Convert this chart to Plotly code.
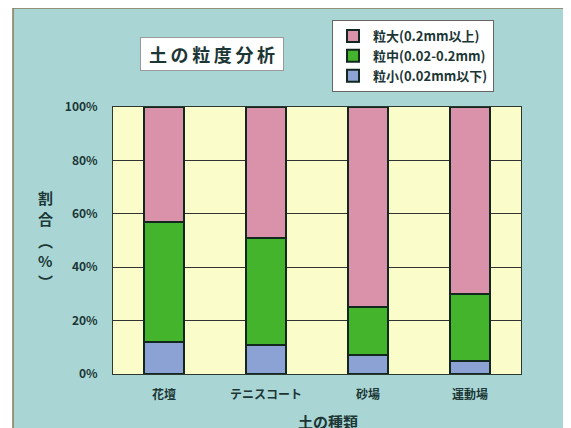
import plotly.graph_objects as go

categories = ["花壇", "テニスコート", "砂場", "運動場"]
small = [0.12, 0.11, 0.07, 0.05]   # 粒小
medium = [0.45, 0.40, 0.18, 0.25]  # 粒中
large = [0.43, 0.49, 0.75, 0.70]   # 粒大
series_names = ["粒小(0.02mm以下)", "粒中(0.02-0.2mm)", "粒大(0.2mm以上)"]
series_colors = ["#8ca2d4", "#44b42c", "#da92aa"]
y_ticks = [0, 0.2, 0.4, 0.6, 0.8, 1.0]
y_tick_labels = ["0%", "20%", "40%", "60%", "80%", "100%"]

FONT = "Noto Sans CJK JP"
TXT = "#1c3636"
TEAL = "#a9d6d5"
PLOTBG = "#fafcca"

fig = go.Figure()
for name, vals, col in zip(series_names, [small, medium, large], series_colors):
    fig.add_trace(go.Bar(
        x=categories, y=vals, name=name, width=0.4,
        marker=dict(color=col, line=dict(color="#12281e", width=2)),
    ))

OFF = 8  # page body margin
W, H = 571 - OFF, 428 - OFF
# plot area in reference pixels: x 113..521, y 107..374
L, T = 113 - OFF, 107 - OFF
R = W - (521 - OFF)
B = H - (374 - OFF)
pw, ph = W - L - R, H - T - B

def px(x):
    return (x - OFF - L) / pw

def py(y):
    return (H - B - (y - OFF)) / ph

fig.update_layout(
    width=W, height=H,
    margin=dict(l=L, r=R, t=T, b=B, autoexpand=False),
    barmode="stack",
    paper_bgcolor="white",
    plot_bgcolor="rgba(0,0,0,0)",
    font=dict(family=FONT, color=TXT, size=12, weight="bold"),
    showlegend=True,
    legend=dict(
        x=px(332), y=py(20), xanchor="left", yanchor="top",
        bgcolor="white", bordercolor="#666666", borderwidth=1,
        traceorder="reversed", font=dict(size=13, family=FONT, color=TXT, weight="bold"),
        itemwidth=30, tracegroupgap=0,
    ),
    shapes=[
        dict(type="rect", xref="paper", yref="paper", layer="below",
             x0=px(13), x1=px(568), y0=py(445), y1=py(8),
             fillcolor=TEAL, line=dict(color="#8a7a5a", width=1.5)),
        dict(type="rect", xref="paper", yref="paper", layer="below",
             x0=0, x1=1, y0=0, y1=1,
             fillcolor=PLOTBG, line=dict(width=0)),
    ],
    xaxis=dict(
        showgrid=False, showline=True, mirror=True, linecolor="#2a3a30", linewidth=1,
        ticks="outside", ticklen=10, tickcolor="rgba(0,0,0,0)",
        tickfont=dict(size=12, family=FONT, color=TXT, weight="bold"),
    ),
    yaxis=dict(
        range=[0, 1], tickvals=y_ticks, ticktext=y_tick_labels,
        showgrid=True, gridcolor="#333333", gridwidth=1,
        showline=True, mirror=True, linecolor="#2a3a30", linewidth=1,
        ticks="outside", ticklen=12, tickcolor="rgba(0,0,0,0)",
        tickfont=dict(size=12, family=FONT, color=TXT, weight="bold"),
        zeroline=False,
    ),
)

annotations = [
    dict(text="\u2009".join("土の粒度分析"), xref="paper", yref="paper",
         x=px(212), y=py(54), xanchor="center", yanchor="middle", showarrow=False,
         bgcolor="white", bordercolor="#999999", borderwidth=1,
         width=140, height=30,
         font=dict(size=18, family=FONT, color=TXT, weight="bold")),
    dict(text="土の種類", xref="paper", yref="paper",
         x=px(328), y=py(421), xanchor="center", yanchor="middle", showarrow=False,
         font=dict(size=15, family=FONT, color=TXT, weight="bold")),
]
for ch, yy in zip(["割", "合", "︵", "%", "︶"], [197, 218, 240, 260, 281]):
    annotations.append(dict(text=ch, xref="paper", yref="paper", x=px(45), y=py(yy),
                            xanchor="center", yanchor="middle", showarrow=False,
                            font=dict(size=15, family=FONT, color=TXT, weight="bold")))
fig.update_layout(annotations=annotations)

fig.write_html("out.html")
